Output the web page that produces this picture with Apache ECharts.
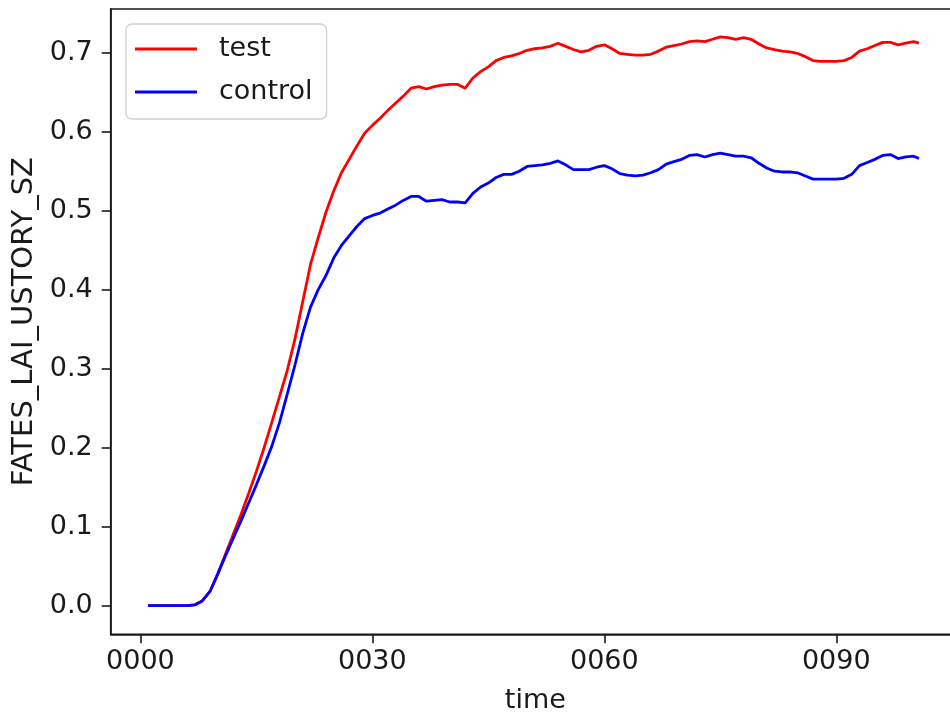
<!DOCTYPE html>
<html><head><meta charset="utf-8">
<script src="https://cdn.jsdelivr.net/npm/echarts@6/dist/echarts.min.js"></script>
<style>html,body{margin:0;padding:0;background:#fff}#c{width:950px;height:712px}</style>
</head><body><div id="c"></div>
<script>
const years = [1,2,3,4,5,6,7,8,9,10,11,12,13,14,15,16,17,18,19,20,21,22,23,24,25,26,27,28,29,30,31,32,33,34,35,36,37,38,39,40,41,42,43,44,45,46,47,48,49,50,51,52,53,54,55,56,57,58,59,60,61,62,63,64,65,66,67,68,69,70,71,72,73,74,75,76,77,78,79,80,81,82,83,84,85,86,87,88,89,90,91,92,93,94,95,96,97,98,99,100,100.7];
const testValues = [0,0,0,0,0,0,0.001,0.006,0.018,0.040,0.065,0.090,0.115,0.142,0.170,0.200,0.232,0.265,0.298,0.338,0.385,0.432,0.466,0.498,0.525,0.548,0.565,0.582,0.598,0.608,0.617,0.627,0.636,0.645,0.655,0.657,0.654,0.657,0.659,0.660,0.660,0.655,0.668,0.676,0.682,0.690,0.694,0.696,0.699,0.703,0.705,0.706,0.708,0.712,0.708,0.704,0.701,0.703,0.708,0.710,0.705,0.699,0.698,0.697,0.697,0.698,0.702,0.707,0.709,0.711,0.714,0.715,0.714,0.717,0.720,0.719,0.717,0.719,0.717,0.711,0.706,0.704,0.702,0.701,0.699,0.695,0.690,0.689,0.689,0.689,0.690,0.694,0.702,0.705,0.709,0.713,0.713,0.710,0.712,0.714,0.712];
const controlValues = [0,0,0,0,0,0,0.001,0.006,0.018,0.040,0.063,0.085,0.107,0.130,0.153,0.177,0.202,0.232,0.268,0.305,0.345,0.378,0.400,0.418,0.440,0.456,0.468,0.480,0.490,0.494,0.497,0.502,0.507,0.513,0.518,0.518,0.512,0.513,0.514,0.511,0.511,0.510,0.522,0.530,0.535,0.542,0.546,0.546,0.550,0.556,0.557,0.558,0.560,0.563,0.558,0.552,0.552,0.552,0.555,0.557,0.553,0.547,0.545,0.544,0.545,0.548,0.552,0.559,0.562,0.565,0.570,0.571,0.568,0.571,0.573,0.571,0.569,0.569,0.567,0.560,0.554,0.550,0.549,0.549,0.548,0.544,0.540,0.540,0.540,0.540,0.541,0.546,0.557,0.561,0.565,0.570,0.571,0.566,0.568,0.569,0.566];
const xTickValues = [0,30,60,90];
const yTickValues = [0,0.1,0.2,0.3,0.4,0.5,0.6,0.7];
const seriesNames = ['test','control'];
const seriesColors = ['#ff0000','#0000ff'];
const xName = 'time';
const yName = 'FATES_LAI_USTORY_SZ';

const FONT = 'DejaVu Sans';
const chart = echarts.init(document.getElementById('c'), null, {renderer:'canvas'});
const pair = (vals) => years.map((y,i)=>[y, vals[i]]);
chart.setOption({
  animation:false,
  backgroundColor:'#fff',
  textStyle:{fontFamily:FONT},
  grid:{left:110.7, top:9, width:849.3, height:625.3, show:true, borderColor:'#1a1a1a', borderWidth:1.6, outerBoundsMode:'none'},
  legend:{
    orient:'vertical', left:126, top:24,
    padding:[10,14,12,9],
    backgroundColor:'rgba(255,255,255,0.8)', borderColor:'#d0d0d0', borderWidth:1.3, borderRadius:6,
    itemWidth:62, itemHeight:3, itemGap:13,
    textStyle:{fontFamily:FONT, fontSize:27, color:'#1a1a1a', lineHeight:30, padding:[0,0,0,17]},
    data:seriesNames.map(n=>({name:n, icon:'rect'}))
  },
  xAxis:{
    type:'value', min:-3.84, max:106,
    name:xName, nameLocation:'middle', nameGap:53,
    nameTextStyle:{fontFamily:FONT, fontSize:27, color:'#1a1a1a'},
    axisLine:{show:true, onZero:false, lineStyle:{color:'#1a1a1a', width:1.6}},
    axisTick:{show:true, inside:false, length:9, lineStyle:{color:'#1a1a1a', width:1.6}, customValues:xTickValues},
    axisLabel:{fontFamily:FONT, fontSize:27, color:'#1a1a1a', margin:14, customValues:xTickValues,
      formatter:(v)=>String(Math.round(v)).padStart(4,'0')},
    splitLine:{show:false}
  },
  yAxis:{
    type:'value', min:-0.0362, max:0.7553,
    name:yName, nameLocation:'middle', nameGap:72, nameRotate:90,
    nameTextStyle:{fontFamily:FONT, fontSize:29, color:'#1a1a1a'},
    axisLine:{show:true, onZero:false, lineStyle:{color:'#1a1a1a', width:1.6}},
    axisTick:{show:true, inside:false, length:9, lineStyle:{color:'#1a1a1a', width:1.6}, customValues:yTickValues},
    axisLabel:{fontFamily:FONT, fontSize:27, color:'#1a1a1a', margin:18, customValues:yTickValues,
      formatter:(v)=>v.toFixed(1)},
    splitLine:{show:false}
  },
  series:seriesNames.map((n,k)=>({
    name:n, type:'line', data:pair(k===0?testValues:controlValues),
    showSymbol:false, symbol:'none', smooth:false,
    lineStyle:{color:seriesColors[k], width:2.8}, itemStyle:{color:seriesColors[k]}
  }))
});
</script></body></html>
